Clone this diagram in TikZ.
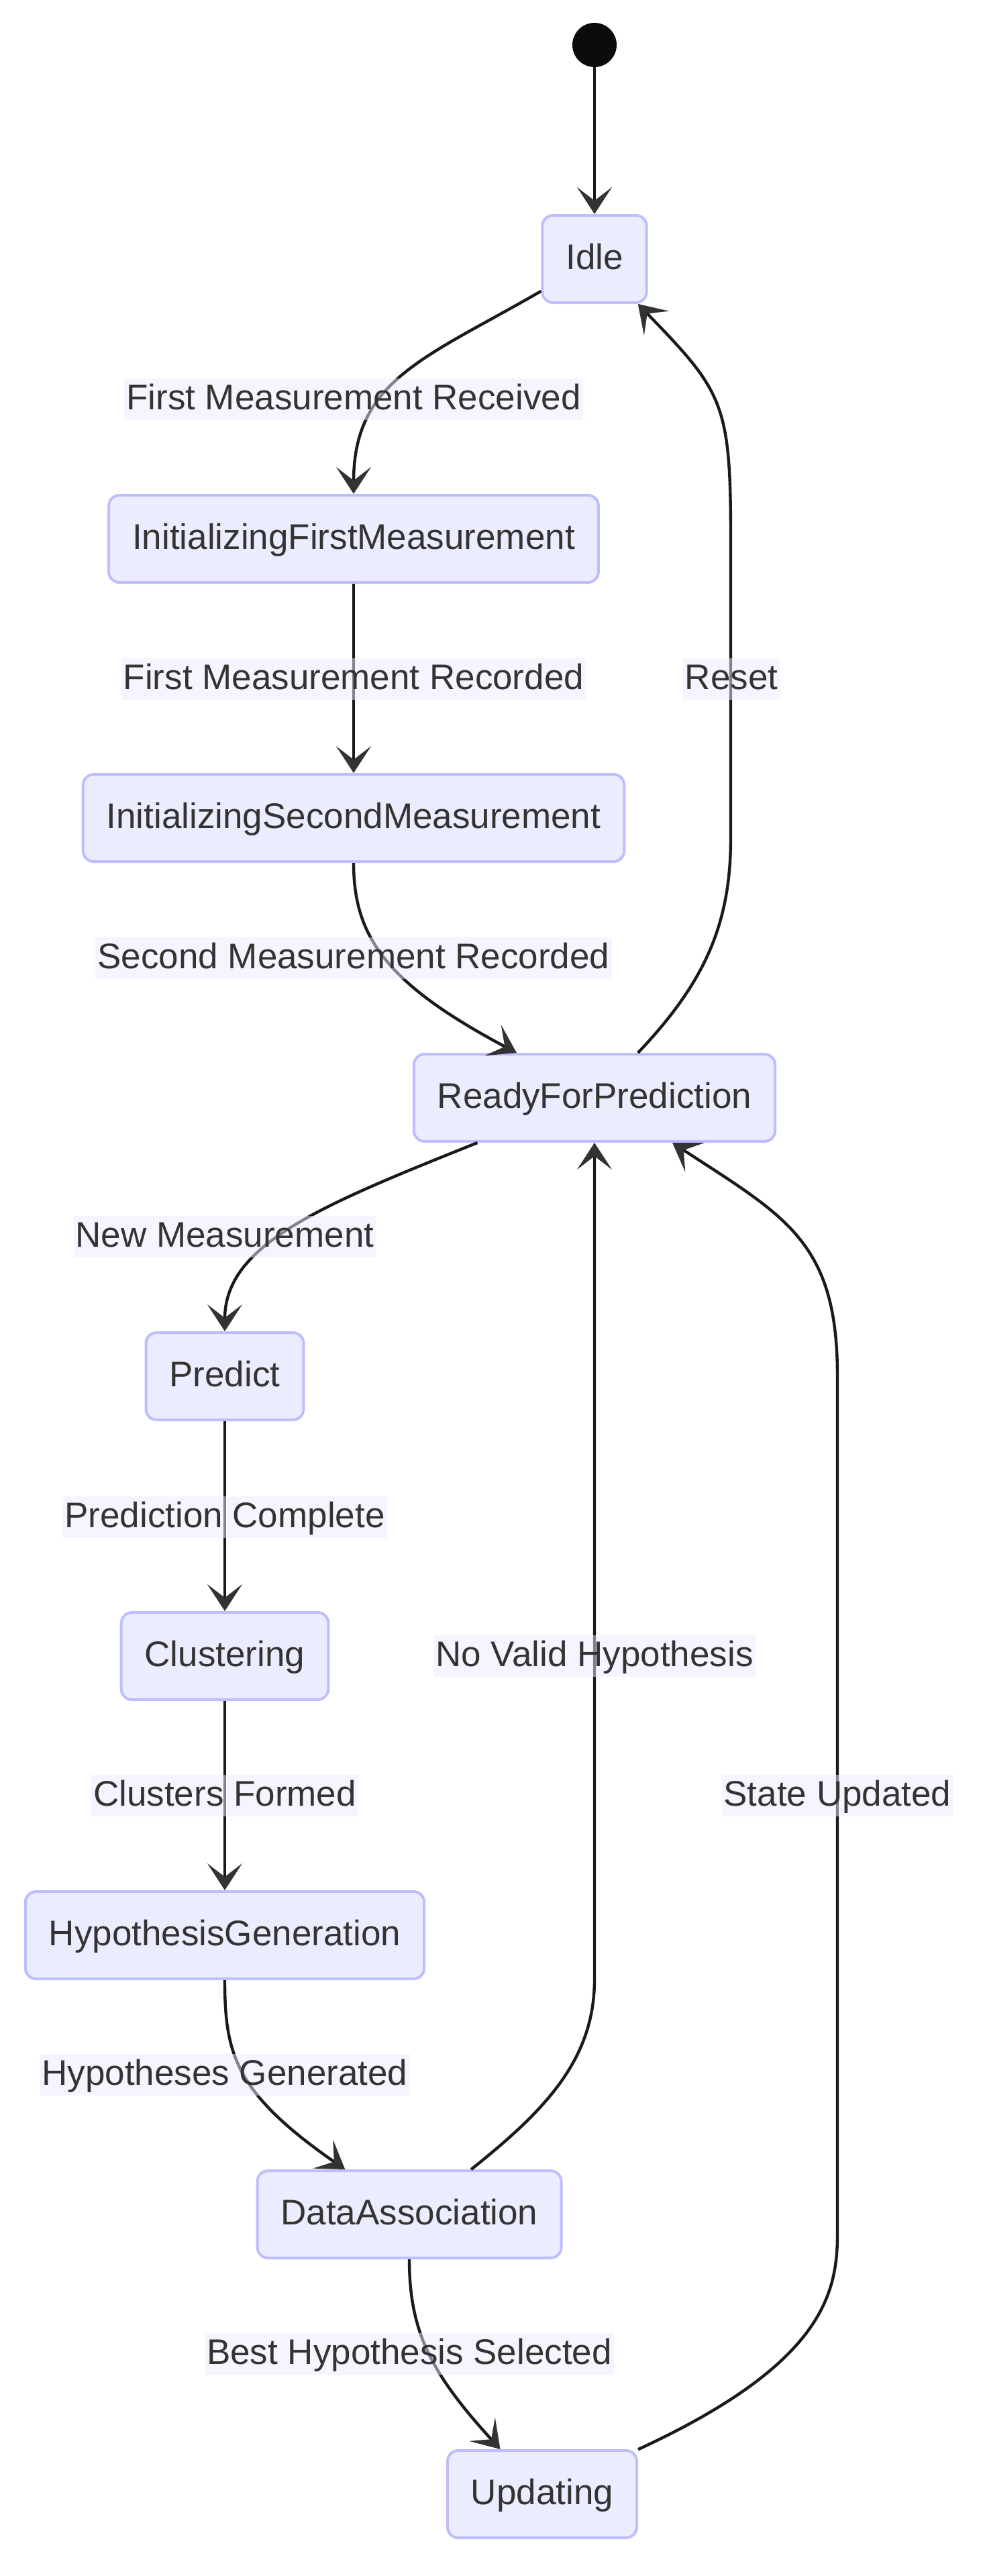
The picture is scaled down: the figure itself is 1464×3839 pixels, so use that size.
\documentclass[tikz,border=0pt]{standalone}
\usepackage{fontspec}
\setmainfont{Liberation Sans}
\usetikzlibrary{arrows.meta}

\definecolor{statefill}{HTML}{ECECFF}
\definecolor{stateline}{RGB}{190,190,252}
\definecolor{labeltext}{HTML}{333333}
\definecolor{edgeline}{HTML}{1A1A1A}
\definecolor{tipfill}{HTML}{333333}
\definecolor{startfill}{HTML}{0C0C0C}

\begin{document}
\begin{tikzpicture}[x=0.5pt, y=-0.5pt, font=\fontsize{26.5}{32}\selectfont,
		>={Stealth[length=20pt, width=26pt, inset=10pt, color=tipfill]}]
		\tikzstyle{mstate}=[draw=stateline, fill=statefill, line width=2pt, rounded corners=8pt, text=labeltext, inner xsep=17.5pt, inner ysep=0pt, minimum height=65pt, text height=20.5pt, text depth=5.5pt]
		\tikzstyle{trlabel}=[fill=statefill, fill opacity=0.5, text opacity=1, text=labeltext, inner xsep=1.5pt, inner ysep=0pt, minimum height=31pt, text height=20.5pt, text depth=5.5pt]
		\tikzstyle{trans}=[draw=edgeline, line width=2.2pt, ->]
		
		\useasboundingbox (0,0) rectangle (1464,3839);
		
		% states
		\node[circle, fill=startfill, minimum size=33pt, inner sep=0pt] (start) at (886,67) {};
		\node[mstate] (idle)   at (886,386)  {Idle};
		\node[mstate] (initf)  at (527,803)  {InitializingFirstMeasurement};
		\node[mstate] (inits)  at (527,1219) {InitializingSecondMeasurement};
		\node[mstate] (rfp)    at (886,1636) {ReadyForPrediction};
		\node[mstate] (pred)   at (335,2051) {Predict};
		\node[mstate] (clus)   at (335,2468) {Clustering};
		\node[mstate] (hypgen) at (335,2884) {HypothesisGeneration};
		\node[mstate] (da)     at (610,3300) {DataAssociation};
		\node[mstate] (upd)    at (808,3717) {Updating};
		
		% bends of the long edges
		\coordinate (resetlo)   at (1089,1250);
		\coordinate (resethi)   at (1089,800);
		\coordinate (novalidlo) at (886,2950);
		\coordinate (updlo)     at (1248,3330);
		\coordinate (updhi)     at (1248,2050);
		
		% transitions
		\path (start) edge[trans] (idle)
		(initf) edge[trans] (inits)
		(pred) edge[trans] (clus)
		(clus) edge[trans] (hypgen);
		\draw[trans] (idle.211) .. controls +(-173,100) and +(0,-170) .. (initf.north);
		\draw[trans] (inits.south) .. controls +(0,110) and +(-194,-103) .. (rfp.150);
		\draw[trans] (rfp.46) .. controls +(97,-102) and +(0,130) .. (resetlo) -- (resethi) .. controls +(0,-200) and +(126,130) .. (idle.-46);
		\draw[trans] (rfp.-159) .. controls +(-232,93) and +(0,-130) .. (pred.north);
		\draw[trans] (hypgen.south) .. controls +(0,110) and +(-164,-114) .. (da.145);
		\draw[trans] (da.36) .. controls +(109,-87) and +(0,120) .. (novalidlo) -- (rfp.south);
		\draw[trans] (da.south) .. controls +(0,110) and +(-101,-111) .. (upd.133);
		\draw[trans] (upd.25) .. controls +(273,-126) and +(0,90) .. (updlo) -- (updhi) .. controls +(0,-200) and +(168,110) .. (rfp.-30);
		
		% transition labels
		\node[trlabel] (lrecv)  at (527,595)   {First Measurement Received};
		\node[trlabel] (lrec1)  at (527,1012)  {First Measurement Recorded};
		\node[trlabel] (lreset) at (1090,1012) {Reset};
		\node[trlabel] (lrec2)  at (527,1428)  {Second Measurement Recorded};
		\node[trlabel] (lnew)   at (335,1843)  {New Measurement};
		\node[trlabel] (lpred)  at (335,2261)  {Prediction Complete};
		\node[trlabel] (lnoval) at (886,2468)  {No Valid Hypothesis};
		\node[trlabel] (lclus)  at (335,2676)  {Clusters Formed};
		\node[trlabel] (lupd)   at (1248,2676) {State Updated};
		\node[trlabel] (lhyp)   at (335,3092)  {Hypotheses Generated};
		\node[trlabel] (lbest)  at (610,3508)  {Best Hypothesis Selected};
	\end{tikzpicture}
\end{document}
